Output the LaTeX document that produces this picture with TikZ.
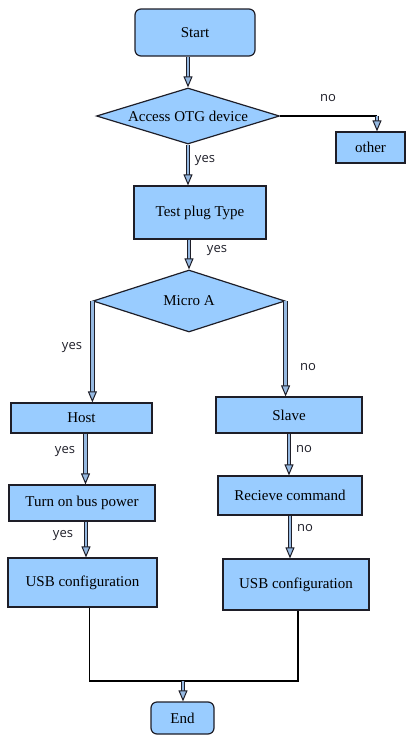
\documentclass[tikz,border=0pt]{standalone}
\usepackage{fontspec}
\setmainfont{Liberation Serif}
\newfontfamily\labelfont{Open Sans}
\usetikzlibrary{arrows.meta,shapes,calc}
\definecolor{boxblue}{RGB}{153,204,255}
\definecolor{pipeblue}{RGB}{150,185,225}
\definecolor{linegray}{RGB}{30,30,40}

\begin{document}
\begin{tikzpicture}[x=1pt, y=-1pt, font=\fontsize{15}{18}\selectfont]
    \tikzstyle{proc}=[rectangle, draw=linegray, fill=boxblue, line width=1.2pt, inner sep=0pt]
    \tikzstyle{term}=[proc, rounded corners=6pt]
    \tikzstyle{decision}=[diamond, aspect=3.3, draw=linegray, fill=boxblue, line width=1.2pt, inner sep=0pt]
    \tikzstyle{pipe}=[draw=linegray, line width=1pt, double=pipeblue, double distance=2.4pt, -{Triangle[length=11pt,width=9pt,fill=pipeblue]}]
    \tikzstyle{wire}=[draw=black, line width=1.2pt]
    \tikzstyle{answer}=[font=\labelfont\fontsize{13}{15}\selectfont, text=linegray, inner sep=0pt]

    \useasboundingbox (0,0) rectangle (406,737);

    \node[term, minimum width=120pt, minimum height=47pt] (start) at (195,32.5) {Start};
    \node[decision, minimum width=183pt, minimum height=56pt] (otg) at (188,116) {Access OTG device};
    \node[proc, minimum width=69pt, minimum height=31pt] (other) at (370.5,147.5) {other};
    \node[proc, minimum width=132pt, minimum height=53pt] (plug) at (200,212.5) {Test plug Type};
    \node[decision, minimum width=192pt, minimum height=62pt] (micro) at (189,301) {Micro A};
    \node[proc, minimum width=141pt, minimum height=30pt] (host) at (81.5,418) {Host};
    \node[proc, minimum width=146pt, minimum height=36pt] (power) at (82,503) {Turn on bus power};
    \node[proc, minimum width=149pt, minimum height=49pt] (usbhost) at (82.5,582.5) {USB configuration};
    \node[proc, minimum width=146pt, minimum height=36pt] (slave) at (289,415) {Slave};
    \node[proc, minimum width=144pt, minimum height=39pt] (recv) at (290,495.5) {Recieve command};
    \node[proc, minimum width=146pt, minimum height=51pt] (usbslave) at (296,584.5) {USB configuration};
    \node[term, minimum width=63pt, minimum height=32pt] (end) at (182.5,718) {End};
    \coordinate (bend) at (377,116);
    \coordinate (merge) at (183,681);

    \draw[pipe] (otg.north |- start.south) -- (otg.north);
    \draw[wire] (otg.east) -- (bend);
    \draw[pipe] (bend) -- (bend |- other.north);
    \draw[pipe] (otg.south) -- (otg.south |- plug.north);
    \draw[pipe] (micro.north |- plug.south) -- (micro.north);
    \draw[pipe] (micro.west) -- (micro.west |- host.north);
    \draw[pipe] (micro.east) -- (micro.east |- slave.north);
    \draw[pipe] ([xshift=4pt]host.south) -- ([xshift=4pt]host.south |- power.north);
    \draw[pipe] ([xshift=4pt]power.south) -- ([xshift=4pt]power.south |- usbhost.north);
    \draw[pipe] (slave.south) -- (slave.south |- recv.north);
    \draw[pipe] (recv.south) -- (recv.south |- usbslave.north);
    \draw[wire] ([xshift=7pt]usbhost.south) |- (merge) -| ([xshift=2pt]usbslave.south);
    \draw[pipe] (merge) -- (merge |- end.north);

    \node[answer] (no1) at (328,98) {no};
    \node[answer] (yes1) at (205,161) {yes};
    \node[answer] (yes2) at (217,251) {yes};
    \node[answer] (yes3) at (72,348) {yes};
    \node[answer] (no2) at (308,367) {no};
    \node[answer] (yes4) at (65,452) {yes};
    \node[answer] (yes5) at (63,536) {yes};
    \node[answer] (no3) at (304,449) {no};
    \node[answer] (no4) at (305,528) {no};
\end{tikzpicture}
\end{document}
